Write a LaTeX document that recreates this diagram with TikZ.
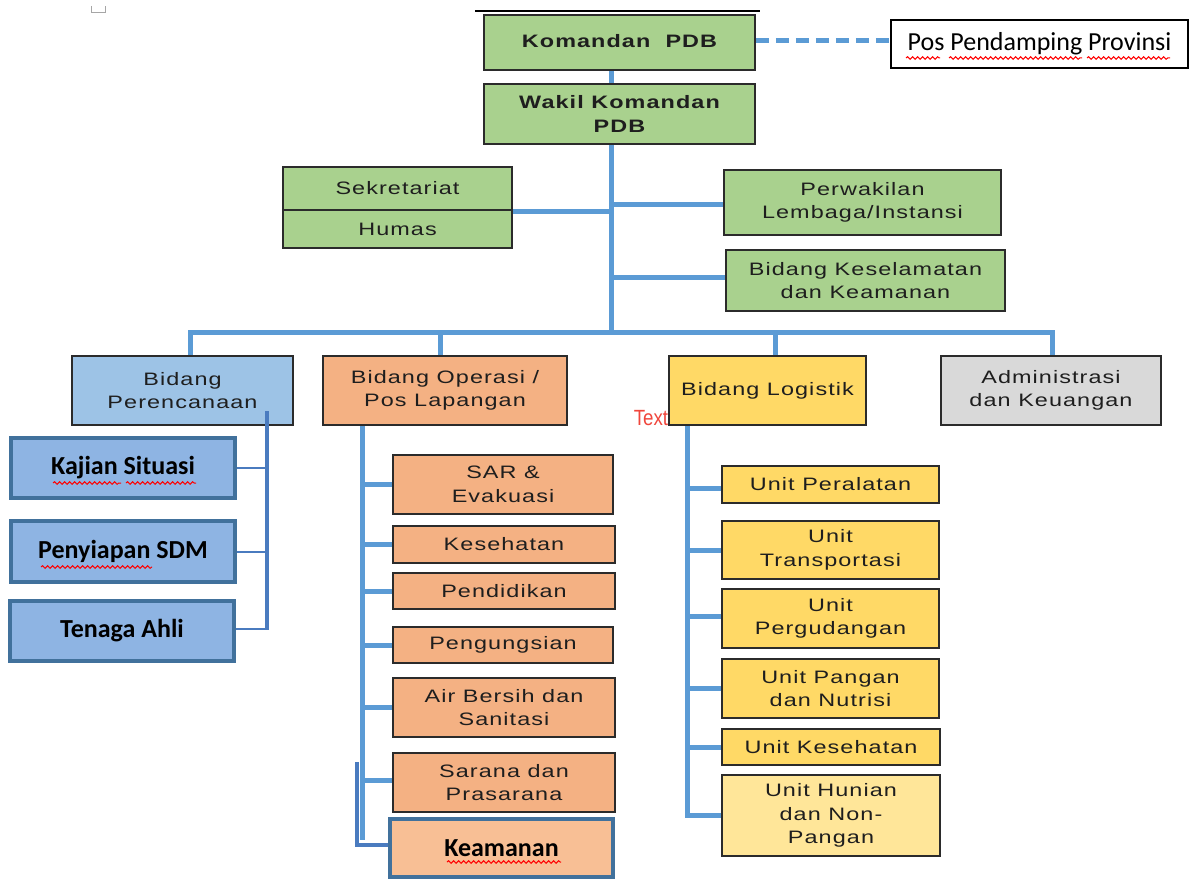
\documentclass[tikz,border=0pt]{standalone}
\usepackage{fontspec}
\setmainfont{Liberation Sans}
\newfontfamily\boxfont[FakeStretch=1.3,LetterSpace=6]{Liberation Sans}
\newfontfamily\calfont{Carlito}
\newfontfamily\narrowfont[FakeStretch=0.85]{Liberation Sans}
\usetikzlibrary{decorations.pathmorphing}
\pgfdeclarelayer{bg}
\pgfsetlayers{bg,main}
\definecolor{cgreen}{HTML}{A9D18E}
\definecolor{cltblue}{HTML}{9DC3E6}
\definecolor{corange}{HTML}{F4B183}
\definecolor{cyellow}{HTML}{FFD966}
\definecolor{cltyellow}{HTML}{FFE699}
\definecolor{cgray}{HTML}{D9D9D9}
\definecolor{cmidblue}{HTML}{8EB4E3}
\definecolor{cdkblue}{HTML}{41719C}
\definecolor{clink}{HTML}{5B9BD5}
\definecolor{cdklink}{HTML}{4A7BBF}
\definecolor{cltorange}{HTML}{F8BF95}
\definecolor{cboxline}{HTML}{2B2B2B}
\definecolor{ctext}{HTML}{1E1E1E}
\definecolor{cred}{HTML}{F0463C}
\begin{document}
\begin{tikzpicture}[x=1pt,y=-1pt,
  bx/.style={draw=cboxline, line width=1.5pt, inner sep=0pt, align=center, text=ctext,
     font=\boxfont\fontsize{18}{23.5}\selectfont},
  gbox/.style={bx, fill=cgreen},
  bgbox/.style={bx, fill=cgreen, font=\boxfont\bfseries\fontsize{18}{24}\selectfont},
  obox/.style={bx, fill=corange},
  ybox/.style={bx, fill=cyellow},
  cbox/.style={draw=cdkblue, line width=3.5pt, inner sep=0pt, align=center, text=black,
     font=\calfont\bfseries\fontsize{26}{28}\selectfont},
  link/.style={draw=clink, line width=5pt},
  dklink/.style={draw=cdklink, line width=4.5pt},
  thinlink/.style={draw=cdklink, line width=2pt},
  wavy/.style={draw=red, line width=1pt, decorate, decoration={snake, amplitude=1.3pt, segment length=5pt}}]
\useasboundingbox (0,0) rectangle (1190,880);

% top marks
\draw[gray!70, line width=1pt] (91,6) -- (91,13) -- (105,13) -- (105,6);
\draw[black, line width=1.8pt] (475,11) -- (760,11);

% top nodes
\node[bgbox, minimum width=271pt, minimum height=55pt] (kom) at (619.5,42.5) {\raisebox{3pt}{Komandan\ \ PDB}};
\node[bgbox, minimum width=271pt, minimum height=60pt] (wakil) at (619.5,114) {Wakil Komandan\\PDB};
\node[draw=black, line width=1.5pt, fill=white, minimum width=297pt, minimum height=48pt, inner sep=0pt,
      font=\calfont\fontsize{26}{28}\selectfont] (pos) at (1039.5,44) {Pos Pendamping Provinsi};

\node[gbox, minimum width=229pt, minimum height=43pt] (sek) at (397.5,188.5) {Sekretariat};
\node[gbox, minimum width=229pt, minimum height=38pt] (humas) at (397.5,229) {Humas};
\node[gbox, minimum width=277pt, minimum height=65pt] (perw) at (862.5,202.5) {Perwakilan\\Lembaga/Instansi};
\node[gbox, minimum width=279pt, minimum height=61pt] (kesel) at (865.5,280.5) {Bidang Keselamatan\\dan Keamanan};

% level 2
\node[bx, fill=cltblue, minimum width=221pt, minimum height=69pt] (pren) at (182.5,390.5) {Bidang\\Perencanaan};
\node[obox, minimum width=244pt, minimum height=69pt] (oper) at (445,390.5) {Bidang Operasi /\\Pos Lapangan};
\node[ybox, minimum width=197pt, minimum height=69pt] (logi) at (767.5,390.5) {\raisebox{2pt}{Bidang Logistik}};
\node[bx, fill=cgray, minimum width=220pt, minimum height=69pt] (admin) at (1051,390.5) {Administrasi\\dan Keuangan};

% perencanaan children
\node[cbox, fill=cmidblue, minimum width=224pt, minimum height=60pt] (kaj) at (123,468) {Kajian Situasi};
\node[cbox, fill=cmidblue, minimum width=224pt, minimum height=61pt] (peny) at (123,551.5) {Penyiapan SDM};
\node[cbox, fill=cmidblue, minimum width=224pt, minimum height=60pt] (ten) at (122,631) {Tenaga Ahli};

% operasi children
\node[obox, minimum width=220pt, minimum height=59pt] (sar) at (503,484.5) {SAR \&\\Evakuasi};
\node[obox, minimum width=222pt, minimum height=37pt] (kes) at (504,544.5) {Kesehatan};
\node[obox, minimum width=222pt, minimum height=36pt] (pend) at (504,591) {Pendidikan};
\node[obox, minimum width=220pt, minimum height=36pt] (peng) at (503,645) {Pengungsian};
\node[obox, minimum width=222pt, minimum height=59pt] (air) at (504,707.5) {Air Bersih dan\\Sanitasi};
\node[obox, minimum width=222pt, minimum height=59pt] (sara) at (504,782.5) {Sarana dan\\Prasarana};
\node[cbox, fill=cltorange, minimum width=223pt, minimum height=58pt] (keam) at (501.5,848) {Keamanan};

% logistik children
\node[ybox, minimum width=217pt, minimum height=37pt] (uper) at (830.5,484.5) {Unit Peralatan};
\node[ybox, minimum width=217pt, minimum height=58pt] (utra) at (830.5,550) {Unit\\Transportasi};
\node[ybox, minimum width=217pt, minimum height=59pt] (upg) at (830.5,618.5) {Unit\\Pergudangan};
\node[ybox, minimum width=217pt, minimum height=59pt] (upn) at (830.5,688.5) {Unit Pangan\\dan Nutrisi};
\node[ybox, minimum width=218pt, minimum height=36pt] (ukes) at (831,747) {Unit Kesehatan};
\node[bx, fill=cltyellow, minimum width=218pt, minimum height=81pt] (uhun) at (831,815.5) {Unit Hunian\\dan Non-\\Pangan};

% stray label
\node[text=cred, font=\narrowfont\fontsize{22}{24}\selectfont, inner sep=0pt] (txt) at (651,418) {Text};

% coordinates
\coordinate (t) at (611,0);
\coordinate (bar) at (611,332);
\coordinate (b1) at (190,332);
\coordinate (b2) at (440,332);
\coordinate (b3) at (775,332);
\coordinate (b4) at (1052,332);
\coordinate (ot) at (362,0);
\coordinate (otend) at (362,840);
\coordinate (lt) at (687,0);
\coordinate (ltend) at (687,815);
\coordinate (pt) at (267,0);
\coordinate (ptend) at (267,630);
\coordinate (dk1) at (357,764);
\coordinate (dk2) at (357,845);

\begin{pgfonlayer}{bg}
  \draw[link] (kom.south -| t) -- (wakil.north -| t);
  \draw[link] (wakil.south -| t) -- (bar);
  \draw[link, dash pattern=on 13pt off 7pt] (kom.east |- 0,41) -- (pos.west |- 0,41);
  \draw[link] ([yshift=-2pt]humas.north east) -- ([yshift=-2pt]humas.north east -| t);
  \draw[link] ([yshift=-1.5pt]perw.west -| t) -- ([yshift=-1.5pt]perw.west);
  \draw[link] ([yshift=3.5pt]kesel.west -| t) -- ([yshift=3.5pt]kesel.west);
  \draw[link, line cap=rect] (b1) -- (b4);
  \draw[link] (b1) -- (b1 |- pren.north);
  \draw[link] (b2) -- (b2 |- oper.north);
  \draw[link] (b3) -- (b3 |- logi.north);
  \draw[link] (b4) -- (b4 |- admin.north);
  % operasi
  \draw[link] (oper.south -| ot) -- (otend);
  \foreach \n in {sar,kes,pend,peng,air} { \draw[link] (\n.west -| ot) -- (\n.west); }
  \draw[link] ([yshift=2.5pt]sara.west -| ot) -- ([yshift=2.5pt]sara.west);
  % logistik
  \draw[link, line cap=rect] (logi.south -| lt) -- (ltend);
  \draw[link] ([yshift=-3.5pt]uper.west -| lt) -- ([yshift=-3.5pt]uper.west);
  \foreach \n in {utra,upn,ukes,uhun} { \draw[link] (\n.west -| lt) -- (\n.west); }
  \draw[link] ([yshift=2.5pt]upg.west -| lt) -- ([yshift=2.5pt]upg.west);
  % perencanaan thin branches
  \draw[thinlink] (kaj.east) -- (kaj.east -| pt);
  \draw[thinlink] (peny.east) -- (peny.east -| pt);
  \draw[thinlink] ([yshift=2pt]ten.east) -- ([yshift=2pt]ten.east -| pt);
  % keamanan dark link
  \draw[dklink, line cap=rect] (dk1) -- (dk2) -- (dk2 -| keam.west);
\end{pgfonlayer}

% perencanaan dark vertical (over the box)
\draw[dklink] (pt |- 0,411) -- (ptend);

% spell-check underlines
\draw[wavy] (906,58) -- (940,58);
\draw[wavy] (949,58) -- (1082,58);
\draw[wavy] (1087,58) -- (1170,58);
\draw[wavy] (53,483) -- (121,483);
\draw[wavy] (126,483) -- (196,483);
\draw[wavy] (41,567) -- (152,567);
\draw[wavy] (447,862) -- (561,862);
\end{tikzpicture}
\end{document}
